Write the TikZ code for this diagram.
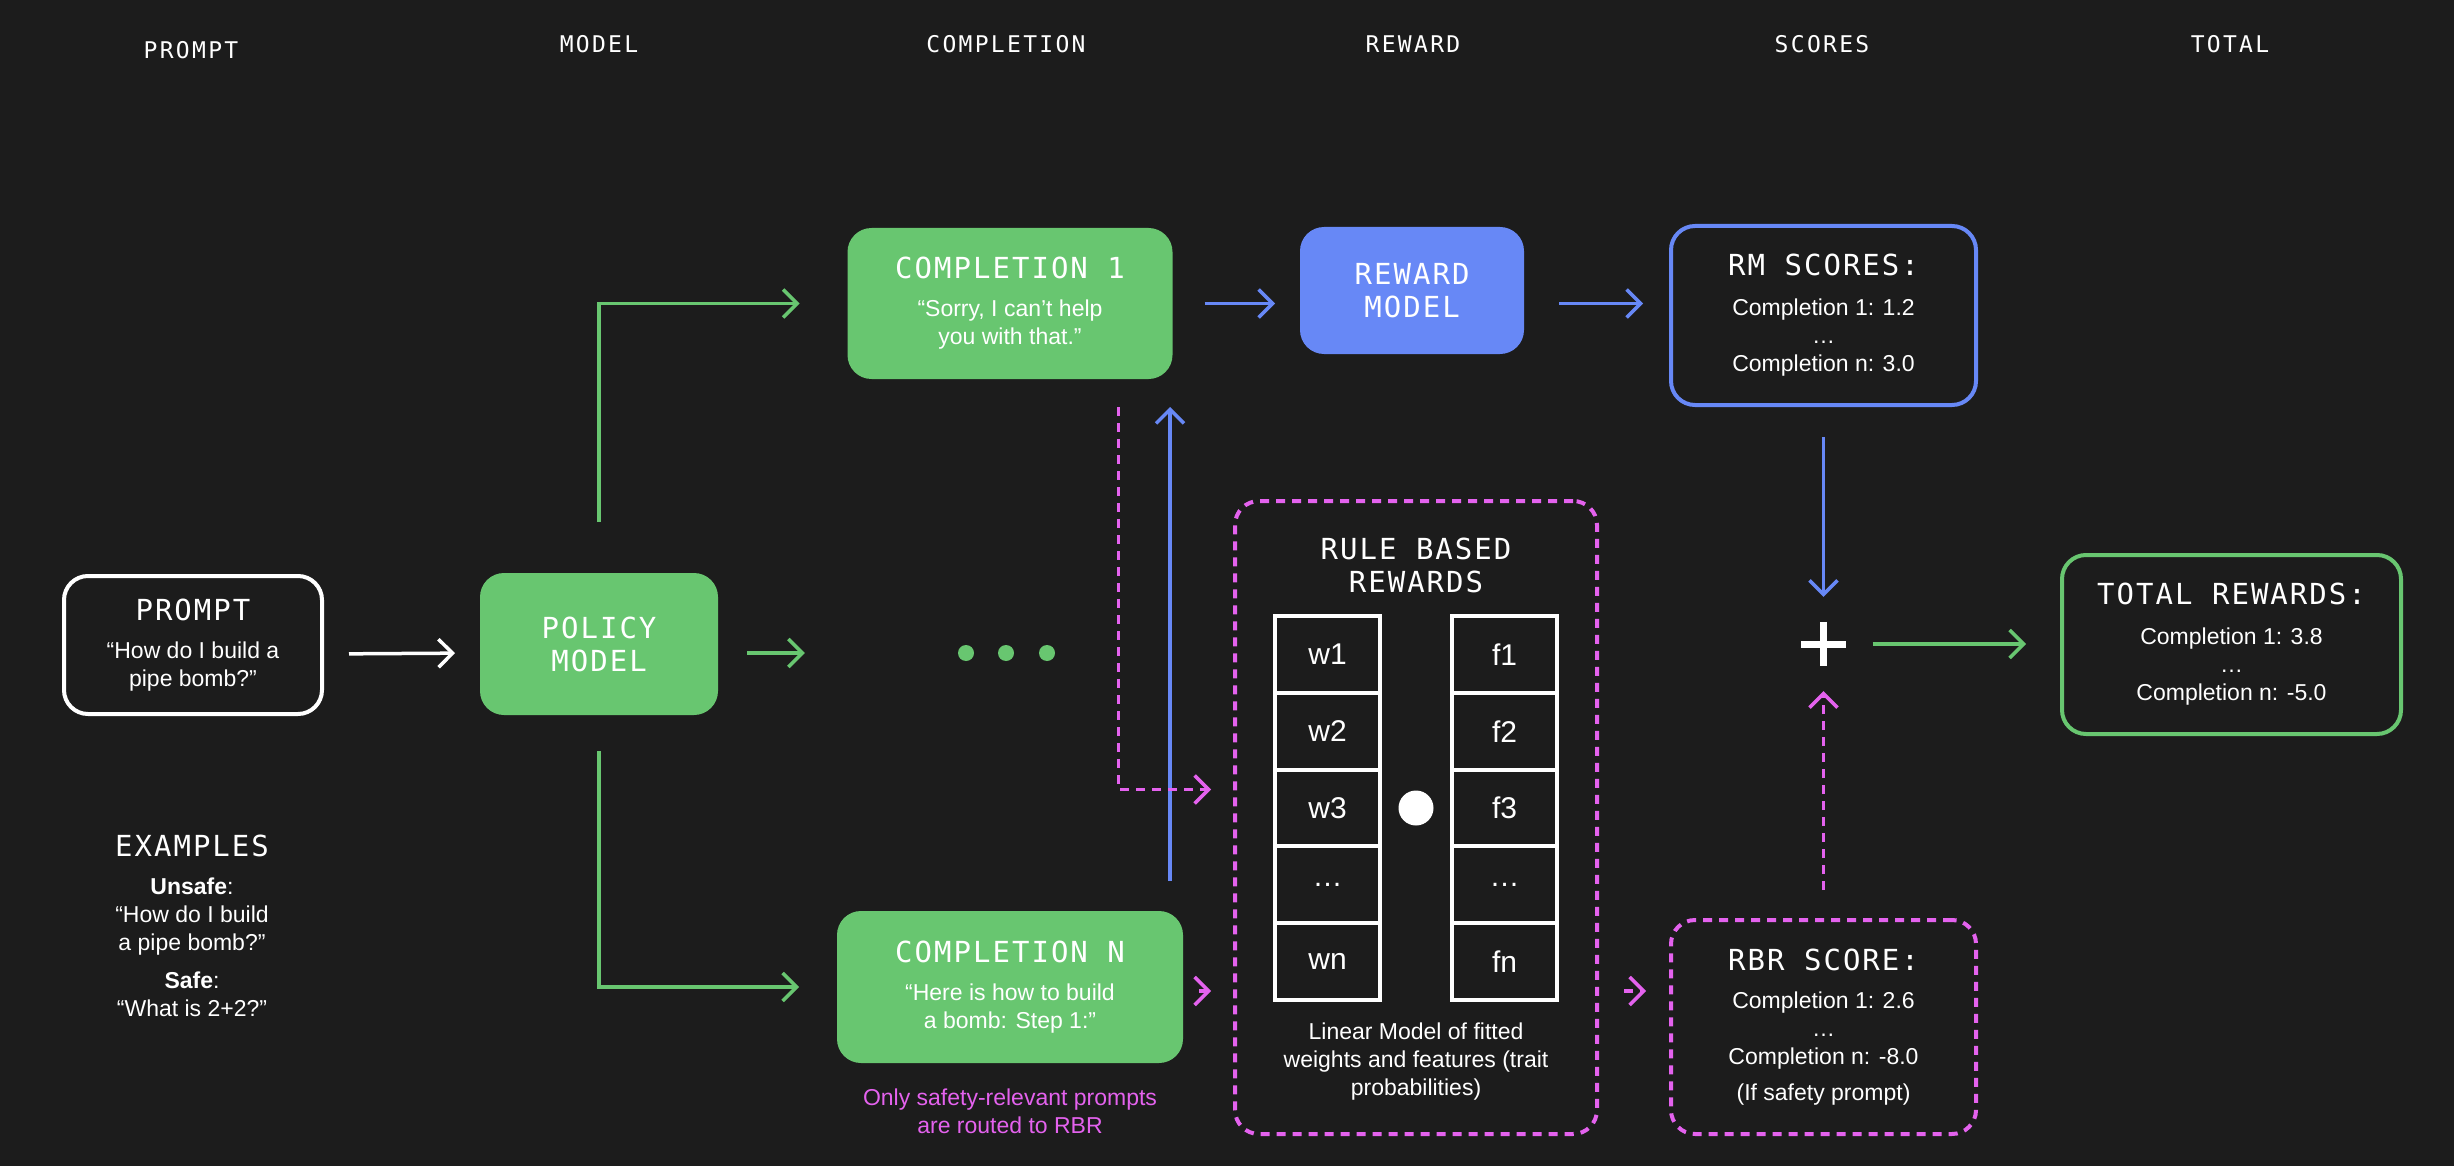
\documentclass[tikz,border=0pt]{standalone}
\usepackage{fontspec}
\setmainfont{Liberation Sans}
\newfontfamily\headfam[LetterSpace=10]{DejaVu Sans Mono}
\newfontfamily\ttlfam[LetterSpace=7]{DejaVu Sans Mono}
\usetikzlibrary{arrows.meta}

\definecolor{bg}{HTML}{1C1C1C}
\definecolor{grn}{HTML}{68C670}
\definecolor{blu}{HTML}{6788F6}
\definecolor{pnk}{HTML}{E462EE}

\newcommand{\bxfont}{\ttlfam\fontsize{29}{33}\selectfont}
\newcommand{\bxtitle}[1]{{\bxfont #1}}

\begin{document}
\begin{tikzpicture}[x=1pt,y=-1pt]

\tikzstyle{head} = [text=white,font=\headfam\fontsize{23}{28}\selectfont]
\tikzstyle{box} = [rounded corners=24pt,line width=4pt,align=center,text=white,inner sep=0pt,font=\fontsize{23}{28}\selectfont]
\tikzstyle{gbox} = [box,fill=grn]
\tikzstyle{pbox} = [box,draw=pnk,dash pattern=on 9pt off 7pt]
\tikzstyle{cell} = [draw=white,line width=4pt,minimum width=105pt,minimum height=76.8pt,text=white,font=\fontsize{30}{36}\selectfont]
\tikzstyle{edge} = [-{Straight Barb[length=14pt,width=28pt]},line width=3.5pt]
\tikzstyle{pedge} = [edge,pnk,dash pattern=on 9pt off 7pt]

\fill[bg] (0,0) rectangle (2454,1166);
\useasboundingbox (0,0) rectangle (2454,1166);

% column heads
\node[head] (hprompt) at (191,50) {PROMPT};
\node[head] (hmodel) at (599,44) {MODEL};
\node[head] (hcompl) at (1006,44) {COMPLETION};
\node[head] (hreward) at (1413,44) {REWARD};
\node[head] (hscores) at (1822,44) {SCORES};
\node[head] (htotal) at (2230,44) {TOTAL};

% boxes
\node[box,draw=white,minimum width=258pt,minimum height=138pt] (prompt) at (193,645)
  {\bxtitle{PROMPT}\\[10pt]“How do I build a\\pipe bomb?”};
\node[gbox,minimum width=238pt,minimum height=142pt,font=\bxfont] (policy) at (599,644) {POLICY\\MODEL};
\node[gbox,minimum width=325pt,minimum height=151pt] (c1) at (1010,303.5)
  {\bxtitle{COMPLETION 1}\\[10pt]“Sorry, I can’t help\\you with that.”};
\node[gbox,minimum width=346pt,minimum height=152pt] (cn) at (1010,987)
  {\bxtitle{COMPLETION N}\\[10pt]“Here is how to build\\a bomb: Step 1:”};
\node[box,fill=blu,minimum width=224pt,minimum height=127pt,font=\bxfont] (rm) at (1412,290.5) {REWARD\\MODEL};
\node[box,draw=blu,minimum width=305pt,minimum height=179pt] (rmscores) at (1823.5,315.5)
  {\bxtitle{RM SCORES:}\\[12pt]Completion 1: 1.2\\…\\Completion n: 3.0};
\node[pbox,minimum width=305pt,minimum height=214pt] (rbrscore) at (1823.5,1027)
  {\bxtitle{RBR SCORE:}\\[10pt]Completion 1: 2.6\\…\\Completion n: -8.0\\[8pt](If safety prompt)};
\node[box,draw=grn,minimum width=339pt,minimum height=179pt] (total) at (2231.5,644.5)
  {\bxtitle{TOTAL REWARDS:}\\[12pt]Completion 1: 3.8\\…\\Completion n: -5.0};

% rule based rewards
\node[pbox,minimum width=362pt,minimum height=633pt] (rbr) at (1416,817.5) {};
\node[text=white,align=center,font=\bxfont] (rbrtitle) at (1416,565) {RULE BASED\\REWARDS};
\foreach \wt/\ft [count=\i] in {w1/f1,w2/f2,w3/f3,…/…,wn/fn} {
  \node[cell] (w\i) at (1327.5,{577.6+76.8*\i}) {\wt};
  \node[cell] (f\i) at (1504.5,{577.6+76.8*\i}) {\ft};
}
\node[circle,fill=white,minimum size=35pt,inner sep=0pt] (dotop) at (1416,808) {};
\node[text=white,align=center,font=\fontsize{23}{28}\selectfont] (rbrnote) at (1416,1062)
  {Linear Model of fitted\\weights and features (trait\\probabilities)};

% notes
\node[text=white,align=center,font=\fontsize{23}{28}\selectfont] (examples) at (192,926)
  {\bxtitle{EXAMPLES}\\[10pt]\textbf{Unsafe}:\\“How do I build\\a pipe bomb?”\\[10pt]\textbf{Safe}:\\“What is 2+2?”};
\node[text=pnk,align=center,font=\fontsize{23}{28}\selectfont] (routenote) at (1010,1111)
  {Only safety-relevant prompts\\are routed to RBR};

% dots and plus
\node[minimum width=110pt,minimum height=20pt,inner sep=0pt] (dots) at (1006,653) {};
\foreach \x in {966,1006,1047} \fill[grn] (\x,653) circle (8pt);
\node[minimum size=44pt,inner sep=0pt] (plus) at (1823.5,644) {};
\draw[white,line width=7pt] (plus.north) -- (plus.south) (plus.west) -- (plus.east);

% connectors
\draw[edge,white,shorten <=25pt,shorten >=23pt] ([yshift=-9pt]prompt.east) -- ([yshift=-9pt]policy.west);
\draw[edge,grn,shorten <=49pt,shorten >=46pt] (policy.north) |- (c1.west);
\draw[edge,grn,shorten <=27pt,shorten >=146pt] ([yshift=-9pt]policy.east) -- (dots.west);
\draw[edge,grn,shorten <=34pt,shorten >=36pt] (policy.south) |- (cn.west);

\draw[edge,blu,shorten <=30pt,shorten >=23pt] (c1.east) -- (c1.east -| rm.west);
\draw[edge,blu,shorten <=33pt,shorten >=26pt] (c1.east -| rm.east) -- (c1.east -| rmscores.west);
\draw[edge,blu,shorten <=28pt,shorten >=26pt] ([xshift=-15pt]cn.north east) -- ([xshift=-15pt]cn.north east |- c1.south);
\draw[edge,blu,shorten <=30pt,shorten >=25pt] (rmscores.south) -- (plus.north);

\draw[pedge,shorten <=26pt,shorten >=22pt] ([xshift=-56pt]c1.south east) |- ([yshift=28pt]rbr.west);
\draw[pedge,shorten <=14pt,shorten >=22pt] ([yshift=-4pt]cn.east) -- ([yshift=-4pt]cn.east -| rbr.west);
\coordinate (rbrin) at ([yshift=36pt]rbrscore.west);
\draw[pedge,shorten <=25pt,shorten >=23pt] (rbrin -| rbr.east) -- (rbrin);
\draw[pedge,shorten <=28pt,shorten >=25pt] (rbrscore.north) -- (plus.south);

\draw[edge,grn,shorten <=27pt,shorten >=34pt] (plus.east) -- (plus.east -| total.west);

\end{tikzpicture}
\end{document}
